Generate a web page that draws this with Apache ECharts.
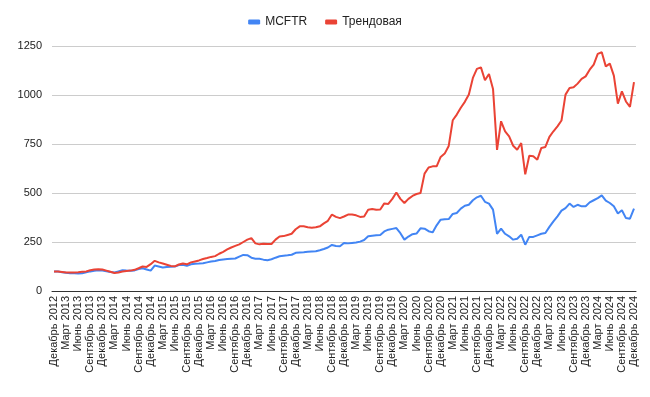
<!DOCTYPE html>
<html>
<head>
<meta charset="utf-8">
<script src="https://cdn.jsdelivr.net/npm/echarts@6/dist/echarts.min.js"></script>
<style>
  html, body { margin: 0; padding: 0; background: #fff; }
  #chart { width: 650px; height: 397px; }
</style>
</head>
<body>
<div id="chart"></div>
<script>
  // месяцы, от Декабрь 2012 до Декабрь 2024
  var monthNames = ['Январь','Февраль','Март','Апрель','Май','Июнь','Июль','Август','Сентябрь','Октябрь','Ноябрь','Декабрь']
  var startYear = 2012, startMonth = 11, monthCount = 145
  var categories = []
  for (var k = 0; k < monthCount; k++) {
    var m = (startMonth + k) % 12
    var y = startYear + Math.floor((startMonth + k) / 12)
    categories.push(monthNames[m] + ' ' + y)
  }

  var mcftr = [
    100, 99, 96, 93, 91, 90, 89, 91, 95, 100, 103, 106,
    104, 101, 97, 94, 100, 106, 104, 103, 105, 112, 116, 110,
    104, 130, 125, 120, 122, 124, 125, 132, 134, 128, 136, 139,
    140, 142, 146, 150, 153, 158, 161, 163, 165, 166, 175, 184,
    183, 170, 165, 164, 160, 157, 162, 170, 177, 180, 182, 185,
    195, 197, 198, 200, 202, 203, 208, 214, 222, 235, 230, 228,
    245, 243, 245, 247, 252, 260, 279, 282, 284, 286, 304, 313,
    317, 321, 295, 262, 278, 290, 293, 320, 318, 305, 299, 335,
    364, 366, 367, 393, 398, 420, 435, 440, 463, 478, 486, 455,
    446, 415, 292, 318, 292, 279, 262, 267, 287, 236, 276, 276,
    284, 292, 296, 327, 355, 381, 410, 423, 446, 429, 440, 432,
    432, 452, 463, 474, 488, 461, 449, 432, 395, 412, 372, 369,
    420
  ]

  var trend = [
    100, 99, 97, 95, 94, 95, 96, 98, 100, 106, 110, 111,
    110, 104, 98, 92, 94, 99, 102, 104, 108, 116, 125, 123,
    137, 154, 146, 140, 134, 128, 126, 135, 140, 136, 146, 151,
    156, 163, 168, 174, 178, 190, 200, 212, 222, 230, 238, 250,
    262, 270, 243, 238, 241, 240, 240, 262, 278, 280, 286, 292,
    315, 330, 330, 325, 323, 325, 330, 345, 358, 390, 378, 372,
    380, 390, 390, 386, 378, 380, 415, 418, 415, 416, 447, 444,
    470, 503, 470, 449, 470, 485, 495, 500, 599, 630, 636, 636,
    684, 701, 740, 871, 900, 935, 965, 1002, 1087, 1133, 1141, 1075,
    1107, 1031, 720, 866, 815, 789, 741, 721, 755, 595, 690, 687,
    670, 730, 735, 786, 815, 840, 870, 1002, 1036, 1039, 1058, 1082,
    1095, 1129, 1155, 1210, 1218, 1146, 1160, 1099, 956, 1019, 967, 939,
    1066
  ]

  var yTicks = [0, 250, 500, 750, 1000, 1250]

  var myChart = echarts.init(document.getElementById('chart'))
  var option = {
    animation: false,
    textStyle: { fontFamily: 'Liberation Sans, Arial, sans-serif' },
    legend: {
      top: 11,
      left: 'center',
      itemGap: 18,
      itemWidth: 12,
      itemHeight: 5,
      icon: 'roundRect',
      textStyle: { fontSize: 12, color: '#222' },
      data: ['MCFTR', 'Трендовая']
    },
    grid: {
      top: 46,
      left: 52,
      right: 14,
      bottom: 106,
      containLabel: false
    },
    xAxis: {
      type: 'category',
      data: categories,
      boundaryGap: true,
      axisLine: { show: true, lineStyle: { color: '#333', width: 1 } },
      axisTick: { show: false },
      axisLabel: {
        interval: 2,
        rotate: 90,
        fontSize: 11,
        color: '#222',
        margin: 5
      }
    },
    yAxis: {
      type: 'value',
      min: yTicks[0],
      max: yTicks[yTicks.length - 1],
      interval: 250,
      axisLine: { show: false },
      axisTick: { show: false },
      axisLabel: {
        fontSize: 11,
        color: '#222',
        margin: 10,
        formatter: function (v) { return String(v) }
      },
      splitLine: { lineStyle: { color: '#ccc', width: 1 } }
    },
    series: [
      {
        name: 'MCFTR',
        type: 'line',
        data: mcftr,
        showSymbol: false,
        lineStyle: { color: '#4285F4', width: 2 },
        itemStyle: { color: '#4285F4' }
      },
      {
        name: 'Трендовая',
        type: 'line',
        data: trend,
        showSymbol: false,
        lineStyle: { color: '#EA4335', width: 2 },
        itemStyle: { color: '#EA4335' }
      }
    ]
  }
  myChart.setOption(option)
</script>
</body>
</html>
